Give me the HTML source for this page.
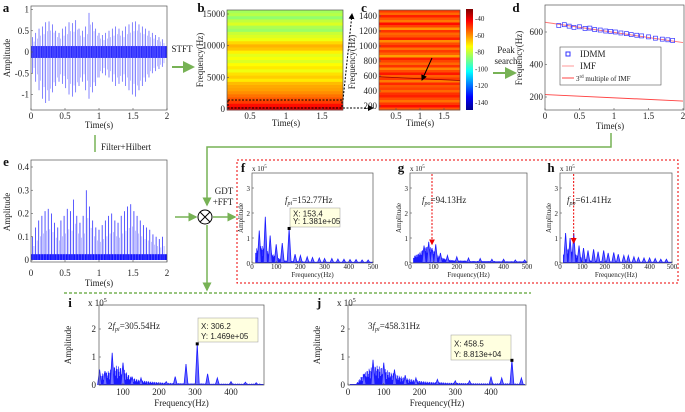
<!DOCTYPE html>
<html><head><meta charset="utf-8"><style>
body{margin:0;background:#fff}
svg{display:block;font-family:"Liberation Serif",serif}
.t{font-size:9px;fill:#222}
.s{font-size:7px;fill:#222}
.lb{font-size:13px;font-weight:bold;fill:#111}
</style></head><body>
<svg id="svg" width="685" height="412" viewBox="0 0 685 412" xmlns="http://www.w3.org/2000/svg">
<defs>
<linearGradient id="jet" x1="0" y1="0" x2="0" y2="1">
<stop offset="0" stop-color="#800000"/><stop offset="0.12" stop-color="#ff0000"/><stop offset="0.37" stop-color="#ffff00"/><stop offset="0.62" stop-color="#00ffff"/><stop offset="0.87" stop-color="#0000ff"/><stop offset="1" stop-color="#00008f"/>
</linearGradient>
<marker id="ag" markerWidth="6" markerHeight="6" refX="5" refY="3" orient="auto"><path d="M0,0L6,3L0,6z" fill="#77b255"/></marker>
<marker id="ak" markerWidth="6" markerHeight="6" refX="5" refY="3" orient="auto"><path d="M0,0L6,3L0,6z" fill="#000"/></marker>
<marker id="ar" markerWidth="6" markerHeight="6" refX="5" refY="3" orient="auto"><path d="M0,0L6,3L0,6z" fill="#e00"/></marker>
</defs>
<g id="root"></g>
</svg>
<script>
// ---- data ----
const aPos=[0.35,0.45,0.55,0.6,0.7,0.72,0.65,0.5,0.45,0.55,0.6,0.7,0.68,0.75,0.55,0.5,0.6,0.92,0.7,0.55,0.45,0.4,0.45,0.5,0.55,0.6,0.55,0.5,0.6,0.65,0.7,0.72,0.65,0.6,0.55,0.5,0.45,0.4,0.35,0.3];
const aNeg=[0.5,0.7,0.9,1.1,1.2,1.15,0.95,0.8,0.7,0.75,0.85,1.0,1.05,0.95,0.8,0.7,0.9,1.1,0.95,0.8,0.6,0.5,0.55,0.6,0.7,0.8,0.75,0.7,0.8,0.9,1.0,1.05,0.9,0.8,0.7,0.6,0.5,0.45,0.4,0.35];
const eImp=[0.1,0.14,0.17,0.19,0.21,0.22,0.2,0.16,0.14,0.17,0.19,0.22,0.21,0.26,0.19,0.16,0.19,0.3,0.23,0.17,0.14,0.13,0.15,0.17,0.19,0.2,0.17,0.16,0.19,0.21,0.23,0.24,0.21,0.19,0.17,0.15,0.14,0.13,0.11,0.1,0.09,0.1];
const bRows=[-86,-84,-88,-83,-80,-85,-87,-82,-80,-78,-72,-68,-70,-75,-79,-77,-80,-76,-74,-78,-73,-71,-74,-69,-67,-66,-64,-61,-58,-55,-50,-46];
const cRows=[-55,-60,-52,-58,-62,-50,-56,-65,-54,-60,-58,-52,-64,-57,-53,-61,-55,-59,-66,-52,-56,-60,-54,-63,-57,-51,-59,-55,-62,-53,-58,-56,-60,-54,-52,-57,-61,-55,-50,-58];
const dT=[0.2,0.28,0.35,0.42,0.5,0.58,0.65,0.72,0.8,0.88,0.95,1.02,1.1,1.18,1.25,1.33,1.4,1.5,1.6,1.7,1.78,1.85];
const dF=[640,645,636,628,632,622,624,615,612,606,604,600,594,590,584,580,576,570,562,556,552,548];
const dImf=[660,535];
const d3rd=[215,175];
const fPkF=[30,55,75,100,125,153.4,178,200,228,250,278,300,330,355,380,405,430,455,480];
const fPkA=[1.3,1.85,1.1,0.75,0.8,1.381,0.35,0.3,0.25,0.22,0.2,0.18,0.18,0.16,0.15,0.14,0.14,0.12,0.12];
const fFloor=[0,0.6,0.7,0.5,0.4,0.25,0.15,0.1,0.08,0.08,0.07,0.06,0.06,0.05,0.05,0.05,0.05,0.05,0.05,0.05,0.05,0.05,0.05,0.05,0.05,0.05];
const gPkF=[60,80,94,110,130,160,200,250,300,350,400,450,490];
const gPkA=[0.7,0.85,0.6,0.75,0.4,0.3,0.25,0.2,0.18,0.15,0.15,0.12,0.12];
const gFloor=[0,0.3,0.4,0.6,0.7,0.5,0.3,0.2,0.15,0.12,0.1,0.1,0.1,0.08,0.08,0.08,0.08,0.08,0.08,0.07,0.07,0.07,0.07,0.07,0.07,0.07];
const hPkF=[25,45,61.4,85,105,125,150,170,195,215,240,260,285,305,330,350,375,400,425,450,475];
const hPkA=[1.2,1.0,1.2,0.7,0.6,0.5,0.55,0.45,0.5,0.4,0.42,0.35,0.3,0.3,0.25,0.22,0.2,0.2,0.18,0.15,0.15];
const hFloor=[0,0.5,0.6,0.4,0.3,0.2,0.15,0.1,0.08,0.08,0.07,0.06,0.06,0.05,0.05,0.05,0.05,0.05,0.05,0.05,0.05,0.05,0.05,0.05,0.05,0.05];
const iPkF=[35,50,70,100,125,150,220,245,275,306.2,335,362,400,440,470];
const iPkA=[0.55,0.5,1.15,0.8,0.3,0.25,0.12,0.3,0.75,1.469,0.4,0.25,0.12,0.1,0.08];
const iFloor=[0,0,0.4,0.5,0.7,0.6,0.3,0.2,0.15,0.12,0.1,0.08,0.07,0.07,0.06,0.06,0.06,0.05,0.05,0.05,0.05,0.05,0.05,0.05,0.05];
const jPkF=[45,70,100,130,160,190,250,300,340,400,430,458.5,485];
const jPkA=[0.4,0.9,0.8,0.55,0.35,0.25,0.2,0.15,0.15,0.3,0.25,0.8813,0.25];
const jFloor=[0,0,0.35,0.6,0.7,0.6,0.45,0.35,0.25,0.2,0.15,0.12,0.1,0.1,0.08,0.08,0.07,0.07,0.06,0.06,0.06,0.06,0.06,0.06,0.05];

// ---- helpers ----
const NS="http://www.w3.org/2000/svg";
const root=document.getElementById('root');
function mk(tag,attrs,parent,txt){const e=document.createElementNS(NS,tag);for(const k in attrs)e.setAttribute(k,attrs[k]);if(txt!==undefined)e.textContent=txt;(parent||root).appendChild(e);return e;}
function lin(d0,d1,r0,r1){return v=>r0+(v-d0)/(d1-d0)*(r1-r0);}
function txt(x,y,s,cls,anchor,parent,rot){const a={x:x,y:y,class:cls||'t','text-anchor':anchor||'middle'};if(rot)a.transform='rotate(-90 '+x+' '+y+')';const e=mk('text',a,parent,s);return e;}
function box(x0,y0,x1,y1,name){const g=mk('g',{});return g;}
function frame(g,x0,y0,x1,y1){const r=mk('rect',{x:x0,y:y0,width:x1-x0,height:y1-y0,fill:'none',stroke:'#555','stroke-width':0.7},g);}
function xticks(g,sx,vals,labs,y0,y1,ly,cls){vals.forEach((v,i)=>{mk('line',{x1:sx(v),x2:sx(v),y1:y1,y2:y1-2,stroke:'#555','stroke-width':0.6},g);txt(sx(v),ly,labs[i],cls||'t','middle',g);});}
function yticks(g,sy,vals,labs,x0,lx,cls){vals.forEach((v,i)=>{mk('line',{x1:x0,x2:x0+2,y1:sy(v),y2:sy(v),stroke:'#555','stroke-width':0.6},g);txt(lx,sy(v)+3,labs[i],cls||'t','end',g);});}
function jet(v){v=Math.max(0,Math.min(1,v));const r=Math.max(0,Math.min(1,1.5-Math.abs(4*v-3))),gg=Math.max(0,Math.min(1,1.5-Math.abs(4*v-2))),b=Math.max(0,Math.min(1,1.5-Math.abs(4*v-1)));return 'rgb('+Math.round(r*255)+','+Math.round(gg*255)+','+Math.round(b*255)+')';}
function spectrum(g,sx,sy,pkF,pkA,floor,fmin,fmax,name){
  let d='';
  for(let f=fmin;f<=fmax;f+=1.5){const i=Math.floor(f/20),fr=(f%20)/20;const fl=(floor[i]||0)*(1-fr)+(floor[i+1]||0)*fr;const k=Math.round(f/1.5);const h=fl*(0.35+0.65*Math.abs(Math.sin(k*2.3)));d+='M'+sx(f).toFixed(1)+','+sy(0)+'V'+sy(h).toFixed(1);}
  const p=mk('path',{d:d,stroke:'#1a1aff','stroke-width':0.7,fill:'none'},g);
  pkF.forEach((f,i)=>{const l=mk('path',{d:'M'+(sx(f)-2)+','+sy(0)+'L'+sx(f)+','+sy(pkA[i])+'L'+(sx(f)+2)+','+sy(0),stroke:'#1a1aff','stroke-width':0.8,fill:'#6f6fff'},g);});
  mk('line',{x1:sx(fmin),x2:sx(fmax),y1:sy(0)-0.5,y2:sy(0)-0.5,stroke:'#1a1aff','stroke-width':1},g);
}
function tip(g,x,y,w,h,l1,l2,mx,my){const r=mk('rect',{x:x,y:y,width:w,height:h,fill:'#ffffe0',stroke:'#999','stroke-width':0.5},g);
 txt(x+3,y+h/2-1,l1,'s','start',g).setAttribute('style','font-family:Liberation Sans;font-size:8px');txt(x+3,y+h-3,l2,'s','start',g).setAttribute('style','font-family:Liberation Sans;font-size:8px');
 const m=mk('rect',{x:mx-1.5,y:my-1.5,width:3,height:3,fill:'#000'},g);}

// ---- panel a ----
{const g=box(0,0,0,0,'panel-a-signal');const sx=lin(0,2,31,167),sy=lin(0,1,52,9.5);
 mk('rect',{x:31,y:sy(0.14),width:136,height:sy(-0.14)-sy(0.14),fill:'#2a2aff'},g);
 aPos.forEach((v,i)=>{const x=sx(0.02+i*1.96/aPos.length);const l=mk('line',{x1:x,x2:x,y1:sy(v),y2:sy(-aNeg[i]),stroke:'#5050ff','stroke-width':0.7},g);
 const x2=x+1.7;mk('line',{x1:x2,x2:x2,y1:sy(v*0.7),y2:sy(-aNeg[i]*0.75),stroke:'#8080ff','stroke-width':0.5},g);});
 frame(g,31,6,167,110);xticks(g,sx,[0,0.5,1,1.5,2],['0','0.5','1','1.5','2'],6,110,119);
 yticks(g,sy,[1,0.5,0,-0.5,-1],['1','0.5','0','-0.5','-1'],31,29);
 txt(99,128,'Time(s)');txt(10,58,'Amplitude','t','middle',g,true);txt(6,12,'a','lb','middle',g);}
// ---- panel b ----
{const g=box(0,0,0,0,'panel-b-spectrogram');const x0=227,x1=343,y0=10,y1=110;const rh=(y1-y0)/bRows.length;
 bRows.forEach((v,i)=>{const r=mk('rect',{x:x0,y:y0+i*rh,width:x1-x0,height:rh+0.5,fill:jet((v+145)/110)},g);});
 frame(g,x0,y0,x1,y1);
 mk('rect',{x:x0+1,y:100,width:x1-x0-2,height:8,fill:'none',stroke:'#000','stroke-dasharray':'2,1.5','stroke-width':1},g);
 const sy=lin(0,15000,109,14),sx=lin(0.5,1,250,286);
 yticks(g,sy,[15000,10000,5000,0],['15000','10000','5000','0'],x0,225);
 xticks(g,sx,[0.5,1,1.5],['0.5','1','1.5'],y0,y1,119);txt(286,126,'Time(s)');txt(203,60,'Frequency(Hz)','t','middle',g,true);txt(201,12,'b','lb','middle',g);
 mk('line',{x1:343,y1:100,x2:352,y2:14,stroke:'#000','stroke-dasharray':'2,1.5','marker-end':'url(#ak)'},g);
 mk('line',{x1:343,y1:108,x2:373,y2:108,stroke:'#000','stroke-dasharray':'2,1.5','marker-end':'url(#ak)'},g);}
// ---- panel c ----
{const g=box(0,0,0,0,'panel-c-spectrogram');const x0=379,x1=460,y0=10,y1=110;const rh=(y1-y0)/cRows.length;
 cRows.forEach((v,i)=>{const r=mk('rect',{x:x0,y:y0+i*rh,width:x1-x0,height:rh+0.5,fill:jet((v+145)/110)},g);});
 frame(g,x0,y0,x1,y1);const sy=lin(200,1400,106,16),sx=lin(0.5,1,396,420);
 mk('line',{x1:x0,y1:sy(590),x2:x1,y2:sy(540),stroke:'#900','stroke-width':0.8},g);
 yticks(g,sy,[1400,1200,1000,800,600,400,200],['1400','1200','1000','800','600','400','200'],x0,377);
 xticks(g,sx,[0.5,1,1.5],['0.5','1','1.5'],y0,y1,119);txt(420,126,'Time(s)');txt(355,62,'Frequency(Hz)','t','middle',g,true);txt(364,12,'c','lb','middle',g);
 mk('line',{x1:432,y1:58,x2:422,y2:80,stroke:'#000','stroke-width':1,'marker-end':'url(#ak)'},g);
 const cb=mk('rect',{x:466,y:9,width:7,height:101,fill:'url(#jet)'},g);
 const cs=lin(-40,-140,18,102);[-40,-60,-80,-100,-120,-140].forEach(v=>txt(475,cs(v)+3,String(v),'s','start',g));}
// ---- panel d ----
{const g=box(0,0,0,0,'panel-d-frequency');const sx=lin(0,2,545,683),sy=lin(200,600,97,32);
 mk('line',{x1:sx(0),y1:sy(dImf[0]),x2:sx(2),y2:sy(dImf[1]),stroke:'#f77','stroke-width':1},g);
 mk('line',{x1:sx(0),y1:sy(d3rd[0]),x2:sx(2),y2:sy(d3rd[1]),stroke:'#f44','stroke-width':1},g);
 dT.forEach((t,i)=>{const r=mk('rect',{x:sx(t)-2,y:sy(dF[i])-2,width:4,height:4,fill:'none',stroke:'#33f','stroke-width':0.7},g);});
 frame(g,545,5,684,110);yticks(g,sy,[600,400,200],['600','400','200'],545,543);
 xticks(g,sx,[0,0.5,1,1.5,2],['0','0.5','1','1.5','2'],5,110,119);txt(610,129,'Time(s)');txt(522,58,'Frequency(Hz)','t','middle',g,true);txt(516,12,'d','lb','middle',g);
 const lg=mk('g',{},g);
 mk('rect',{x:560,y:47,width:101,height:38,fill:'#fff',stroke:'#555','stroke-width':0.6},lg);
 mk('rect',{x:566,y:52,width:4,height:4,fill:'none',stroke:'#33f'},lg);txt(580,57,'IDMM','t','start',lg);
 mk('line',{x1:562,x2:574,y1:66,y2:66,stroke:'#f99'},lg);txt(580,69,'IMF','t','start',lg);
 mk('line',{x1:562,x2:574,y1:78,y2:78,stroke:'#f44'},lg);const t3=txt(576,81,'','s','start',lg);t3.innerHTML='3<tspan dy="-3" font-size="5">rd</tspan><tspan dy="3"> multiple of IMF</tspan>';}
// ---- arrows & text ----
{const g=box(0,0,0,0,'flow-annotations');
 txt(182,52,'STFT','t','middle',g);mk('line',{x1:172,y1:67,x2:193,y2:67,stroke:'#77b255','stroke-width':2,'marker-end':'url(#ag)'},g);
 txt(506,53,'Peak','t','middle',g);txt(506,64,'search','t','middle',g);mk('line',{x1:493,y1:73,x2:515,y2:73,stroke:'#77b255','stroke-width':2,'marker-end':'url(#ag)'},g);
 mk('line',{x1:95,y1:135,x2:95,y2:152,stroke:'#77b255','stroke-width':1.5},g);txt(101,150,'Filter+Hilbert','t','start',g);
 mk('polyline',{points:'611,133 611,147 207,147 207,205',fill:'none',stroke:'#77b255','stroke-width':1.5,'marker-end':'url(#ag)'},g);
 mk('line',{x1:175,y1:217,x2:196,y2:217,stroke:'#77b255','stroke-width':1.5,'marker-end':'url(#ag)'},g);
 const c=mk('circle',{cx:205,cy:217,r:7,fill:'#fff',stroke:'#000','stroke-width':1},g);
 mk('path',{d:'M200,212L210,222M210,212L200,222',stroke:'#000','stroke-width':1},g);
 txt(224,194,'GDT','t','middle',g);txt(223,205,'+FFT','t','middle',g);
 mk('line',{x1:213,y1:217,x2:235,y2:217,stroke:'#77b255','stroke-width':1.5,'marker-end':'url(#ag)'},g);
 mk('line',{x1:207,y1:225,x2:207,y2:290,stroke:'#77b255','stroke-width':1.5,'marker-end':'url(#ag)'},g);
 mk('line',{x1:64,y1:293,x2:531,y2:293,stroke:'#77b255','stroke-width':1.5,'stroke-dasharray':'3,2'},g);
 const rb=mk('rect',{x:237,y:160,width:441,height:123,fill:'none',stroke:'#e00','stroke-width':1,'stroke-dasharray':'2,2'},g);}
// ---- panel e ----
{const g=box(0,0,0,0,'panel-e-envelope');const sx=lin(0,2,31,167),sy=lin(0,0.4,260,167);
 mk('rect',{x:31,y:sy(0.025),width:136,height:sy(0)-sy(0.025),fill:'#1010ff'},g);
 eImp.forEach((v,i)=>{const x=sx(0.02+i*1.96/eImp.length);const l=mk('line',{x1:x,x2:x,y1:sy(v),y2:sy(0),stroke:'#3030ff','stroke-width':0.8},g);mk('line',{x1:x+1.6,x2:x+1.6,y1:sy(v*0.6),y2:sy(0),stroke:'#8080ff','stroke-width':0.5},g);});
 frame(g,31,160,167,262);xticks(g,sx,[0,0.5,1,1.5,2],['0','0.5','1','1.5','2'],160,262,276);
 yticks(g,sy,[0.4,0.3,0.2,0.1,0],['0.4','0.3','0.2','0.1','0'],31,29);
 txt(99,286,'Time(s)');txt(10,212,'Amplitude','t','middle',g,true);txt(6,166,'e','lb','middle',g);}
// ---- panels f,g,h ----
function small(x0,x1,label,pkF,pkA,floor,name){const g=box(0,0,0,0,name);const sx=lin(0,500,x0,x1),sy=lin(0,1,263,238);
 spectrum(g,sx,sy,pkF,pkA,floor,15,498,name);frame(g,x0,173,x1,263);
 yticks(g,sy,[3,2,1,0],['3','2','1','0'],x0,x0-2,'s');xticks(g,sx,[0,100,200,300,400,500],['0','100','200','300','400','500'],173,263,269,'s');
 txt((x0+x1)/2,277,'Frequency(Hz)','s');txt(x0-9,218,'Amplitude','s','middle',g,true);
 const e=txt(x0,171,'','s','start',g);e.innerHTML='x 10<tspan dy="-3" font-size="5">5</tspan>';txt(x0-9,172,label,'lb','middle',g);return {g,sx,sy};}
{const p=small(252,373,'f',fPkF,fPkA,fFloor,'panel-f-spectrum');const t=txt(285,203,'','t','start',p.g);t.innerHTML='<tspan font-style="italic">f</tspan><tspan font-size="6" dy="2" font-style="italic">pi</tspan><tspan dy="-2">=152.77Hz</tspan>';
 tip(p.g,290,208,50,19,'X: 153.4','Y: 1.381e+05',p.sx(153.4),p.sy(1.381));}
{const p=small(410,527,'g',gPkF,gPkA,gFloor,'panel-g-spectrum');mk('line',{x1:p.sx(94),x2:p.sx(94),y1:174,y2:p.sy(0.75),stroke:'#e00','stroke-dasharray':'2,1.5','marker-end':'url(#ar)'},p.g);
 const t=txt(422,203,'','t','start',p.g);t.innerHTML='<tspan font-style="italic">f</tspan><tspan font-size="6" dy="2" font-style="italic">po</tspan><tspan dy="-2">=94.13Hz</tspan>';}
{const p=small(560,672,'h',hPkF,hPkA,hFloor,'panel-h-spectrum');mk('line',{x1:p.sx(61),x2:p.sx(61),y1:174,y2:p.sy(0.8),stroke:'#e00','stroke-dasharray':'2,1.5','marker-end':'url(#ar)'},p.g);
 const t=txt(567,203,'','t','start',p.g);t.innerHTML='<tspan font-style="italic">f</tspan><tspan font-size="6" dy="2" font-style="italic">pb</tspan><tspan dy="-2">=61.41Hz</tspan>';}
// ---- panels i,j ----
function big(x0,x1,sx,ticks,label,pkF,pkA,floor,fmin,fmax,name){const g=box(0,0,0,0,name);const sy=lin(0,1,385,357);
 spectrum(g,sx,sy,pkF,pkA,floor,fmin,fmax,name);frame(g,x0,305,x1,385);
 yticks(g,sy,[2,1,0],['2','1','0'],x0,x0-3);xticks(g,sx,ticks,ticks.map(String),305,385,395);
 txt((x0+x1)/2,406,'Frequency(Hz)','t');txt(x0-28,345,'Amplitude','t','middle',g,true);
 const e=txt(x0-11,306,'','t','start',g);e.innerHTML='x 10<tspan dy="-4" font-size="6">5</tspan>';txt(x0-29,307,label,'lb','middle',g);return {g,sy};}
{const sx=lin(0,100,87,123);const p=big(99,264,sx,[100,200,300,400],'i',iPkF,iPkA,iFloor,32,490,'panel-i-spectrum');
 const t=txt(108,329,'','t','start',p.g);t.innerHTML='2<tspan font-style="italic">f</tspan><tspan font-size="6" dy="2" font-style="italic">pi</tspan><tspan dy="-2">=305.54Hz</tspan>';
 tip(p.g,198,318,60,24,'X: 306.2','Y: 1.469e+05',sx(306.2),p.sy(1.469));}
{const sx=lin(0,400,348,491);const p=big(348,526,sx,[0,100,200,300,400],'j',jPkF,jPkA,jFloor,5,495,'panel-j-spectrum');
 const t=txt(368,329,'','t','start',p.g);t.innerHTML='3<tspan font-style="italic">f</tspan><tspan font-size="6" dy="2" font-style="italic">pi</tspan><tspan dy="-2">=458.31Hz</tspan>';
 tip(p.g,451,335,60,25,'X: 458.5','Y: 8.813e+04',sx(458.5),p.sy(0.8813));}
</script>
</body></html>
